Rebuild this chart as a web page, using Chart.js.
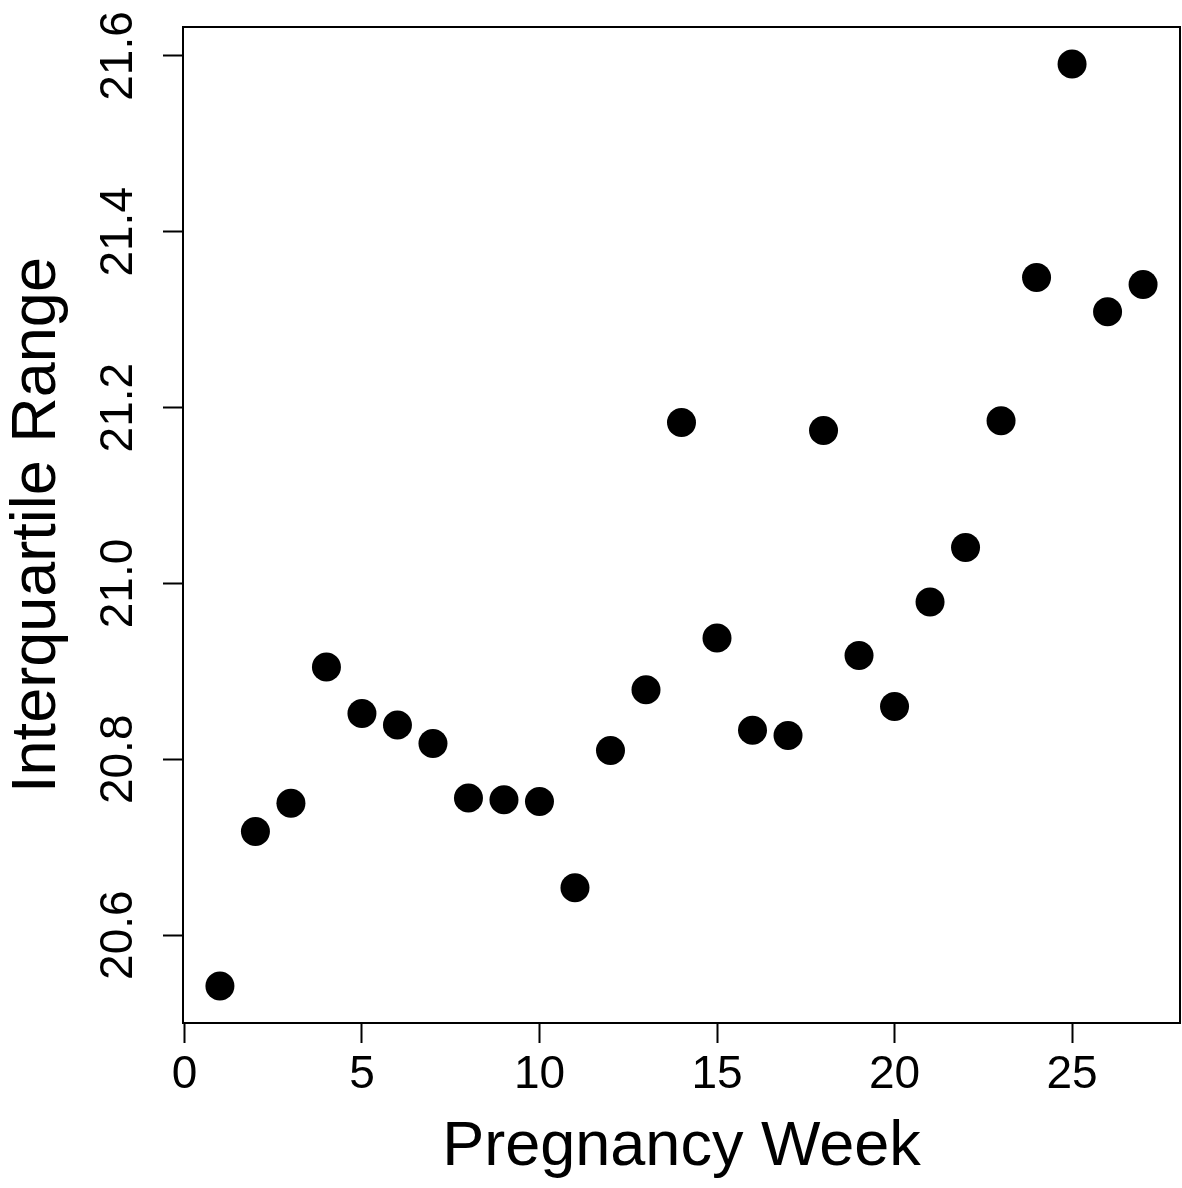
<!DOCTYPE html>
<html>
<head>
<meta charset="utf-8">
<script src="https://cdn.jsdelivr.net/npm/chart.js@4/dist/chart.umd.min.js"></script>
<style>
  html, body { margin: 0; padding: 0; background: #fff; }
  canvas { display: block; }
</style>
</head>
<body>
<canvas id="chart" width="1182" height="1188"></canvas>
<script>
// values
const weeks = [1, 2, 3, 4, 5, 6, 7, 8, 9, 10, 11, 12, 13, 14, 15, 16, 17, 18, 19, 20, 21, 22, 23, 24, 25, 26, 27];
const iqr = [20.542, 20.718, 20.750, 20.905, 20.852, 20.839, 20.818, 20.756, 20.754, 20.752, 20.654,
             20.810, 20.879, 21.183, 20.938, 20.833, 20.827, 21.174, 20.918, 20.860, 20.979,
             21.041, 21.185, 21.348, 21.591, 21.309, 21.340];
const xTicks = [0, 5, 10, 15, 20, 25];
const yTicks = [20.6, 20.8, 21.0, 21.2, 21.4, 21.6];

const xTitle = "Pregnancy Week";
const yTitle = "Interquartile Range";

// R style axis limits: data range widened by 4% on each side
function rLimits(vals) {
    let lo = Math.min(...vals), hi = Math.max(...vals);
    let pad = (hi - lo) * 0.04;
    return [lo - pad, hi + pad];
}
const [xMin, xMax] = rLimits(weeks);
const [yMin, yMax] = rLimits(iqr);

const FONT = '"Liberation Sans", Arial, Helvetica, sans-serif';

// box round the plot area, like R's box()
const boxPlugin = {
    id: 'box',
    afterDraw(chart) {
        const {ctx, chartArea: a} = chart;
        ctx.save();
        ctx.strokeStyle = '#000';
        ctx.lineWidth = 2;
        ctx.strokeRect(a.left, a.top, a.right - a.left, a.bottom - a.top);
        ctx.restore();
    }
};

new Chart(document.getElementById('chart'), {
    type: 'scatter',
    data: {
        datasets: [{
            data: weeks.map((w, i) => ({x: w, y: iqr[i]})),
            backgroundColor: '#000',
            borderWidth: 0,
            pointRadius: 14.5,
            pointHoverRadius: 14.5,
        }]
    },
    options: {
        responsive: false,
        animation: false,
        events: [],
        layout: {
            autoPadding: false,
            padding: { top: 27, right: 2, left: 0, bottom: 0 }
        },
        plugins: {
            legend: { display: false },
            tooltip: { enabled: false },
        },
        scales: {
            x: {
                type: 'linear',
                min: xMin,
                max: xMax,
                afterBuildTicks: s => { s.ticks = xTicks.map(v => ({value: v})); },
                afterFit: s => {
                    s.height = 165;
                    s.paddingLeft = 0;
                    s.paddingRight = 0;
                },
                border: { display: false },
                grid: { drawOnChartArea: false, drawTicks: true, tickLength: 20, tickWidth: 2, tickColor: '#000' },
                ticks: {
                    color: '#000',
                    font: { family: FONT, size: 46 },
                    padding: 5,
                    maxRotation: 0,
                    autoSkip: false,
                    callback: v => String(v),
                },
                title: {
                    display: true,
                    text: xTitle,
                    color: '#000',
                    font: { family: FONT, size: 63, lineHeight: 1 },
                    padding: { top: 0, bottom: 9 },
                },
            },
            y: {
                type: 'linear',
                min: yMin,
                max: yMax,
                afterBuildTicks: s => { s.ticks = yTicks.map(v => ({value: v})); },
                afterFit: s => {
                    s.width = 183;
                    s.paddingTop = 0;
                    s.paddingBottom = 0;
                },
                border: { display: false },
                grid: { drawOnChartArea: false, drawTicks: true, tickLength: 20, tickWidth: 2, tickColor: '#000' },
                ticks: {
                    color: '#000',
                    font: { family: FONT, size: 46 },
                    padding: -1,
                    minRotation: 90,
                    maxRotation: 90,
                    crossAlign: 'center',
                    autoSkip: false,
                    callback: v => v.toFixed(1),
                },
                title: {
                    display: true,
                    text: yTitle,
                    color: '#000',
                    font: { family: FONT, size: 63, lineHeight: 1 },
                    padding: { top: 6, bottom: 0 },
                },
            }
        }
    },
    plugins: [boxPlugin]
});
</script>
</body>
</html>
